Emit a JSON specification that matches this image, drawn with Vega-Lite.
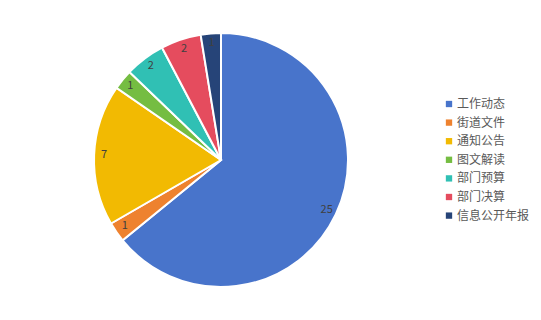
{
  "$schema": "https://vega.github.io/schema/vega-lite/v6.json",
  "width": 442,
  "height": 320,
  "autosize": "none",
  "padding": {"left": 0, "top": 0, "right": 99, "bottom": 0},
  "background": "white",
  "config": {"view": {"stroke": null}},
  "data": {
    "values": [
      {"i": 1, "category": "工作动态", "value": 25},
      {"i": 2, "category": "街道文件", "value": 1},
      {"i": 3, "category": "通知公告", "value": 7},
      {"i": 4, "category": "图文解读", "value": 1},
      {"i": 5, "category": "部门预算", "value": 2},
      {"i": 6, "category": "部门决算", "value": 2},
      {"i": 7, "category": "信息公开年报", "value": 1}
    ]
  },
  "encoding": {
    "theta": {"field": "value", "type": "quantitative", "stack": true},
    "order": {"field": "i", "type": "quantitative"},
    "color": {
      "field": "category",
      "type": "nominal",
      "sort": ["工作动态", "街道文件", "通知公告", "图文解读", "部门预算", "部门决算", "信息公开年报"],
      "scale": {
        "domain": ["工作动态", "街道文件", "通知公告", "图文解读", "部门预算", "部门决算", "信息公开年报"],
        "range": ["#4874CB", "#EE822F", "#F2BA02", "#75BD42", "#30C0B4", "#E54C5E", "#264478"]
      },
      "legend": {
        "title": null,
        "orient": "none",
        "legendX": 443,
        "legendY": 98,
        "symbolType": "square",
        "symbolSize": 40,
        "symbolStrokeWidth": 0,
        "labelFont": "Noto Sans CJK SC",
        "labelFontSize": 12,
        "labelColor": "#595959",
        "rowPadding": 6.6,
        "labelOffset": 2
      }
    }
  },
  "layer": [
    {
      "mark": {"type": "arc", "outerRadius": 127, "stroke": "white", "strokeWidth": 2}
    },
    {
      "mark": {"type": "text", "radius": 117, "font": "Noto Sans CJK SC", "fontSize": 11},
      "encoding": {
        "text": {"field": "value", "type": "quantitative"},
        "color": {"value": "#404040"}
      }
    }
  ]
}
